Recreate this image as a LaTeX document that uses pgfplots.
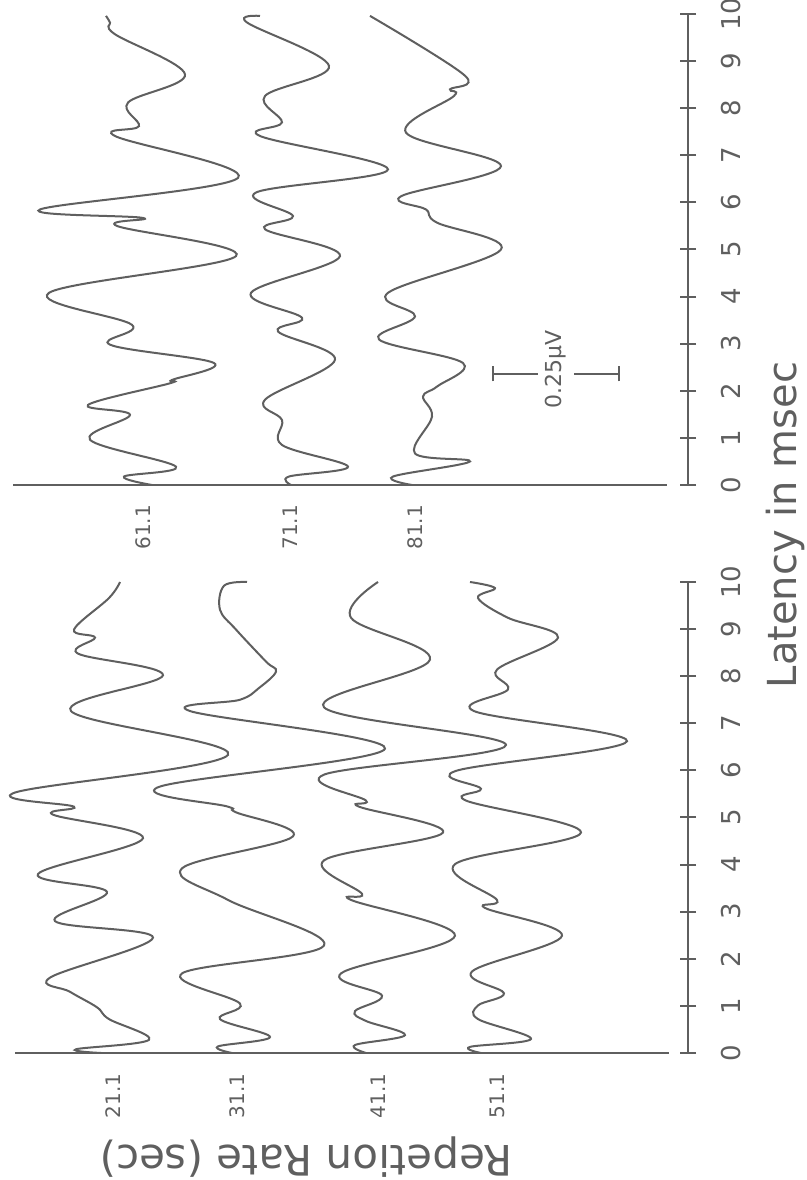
\documentclass[border=0pt]{standalone}
\usepackage{fontspec}
\setmainfont{DejaVu Sans}
\usepackage{pgfplots}
\pgfplotsset{compat=1.18}
\definecolor{ink}{RGB}{95,95,95}

% 1 px of the scan = 0.5pt; both panels 47.1 px per msec
\pgfplotsset{
  panel/.style={
    x=0.5pt, y=23.55pt,
    xmin=0, xmax=688, ymin=0, ymax=10,
    axis x line=none, axis y line*=right,
    ytick={0,...,10},
    tick align=center, major tick length=8pt,
    axis line style={ink, line width=1.1pt},
    major tick style={ink, line width=1pt},
    yticklabel style={rotate=90, anchor=north, text=ink,
      font=\fontsize{13}{13}\selectfont},
    yticklabel shift=9pt,
    /pgf/number format/assume math mode=true,
    clip=false, anchor=south west,
  },
  trace/.style={ink, line width=1pt, smooth, tension=0.6},
}
\tikzset{lab/.style={rotate=90, text=ink, font=\fontsize{10}{10}\selectfont}}

\begin{document}
\begin{tikzpicture}
\useasboundingbox (0,0) rectangle (403.5pt,590pt);

% lower panel: 21.1 to 51.1
\begin{axis}[panel, at={(0pt,63.5pt)}]
\addplot[ink, line width=1.1pt] coordinates {(15,0) (669,0)};
% 21.1
\addplot[trace] coordinates {
(101,0) (76,0.08) (149,0.28) (109,0.72) (97,0.97) (70,1.3) (50,1.6)
(153,2.45) (55,2.8) (107,3.42) (38,3.8) (143,4.56) (53,5.06) (74,5.23)
(15,5.53) (228,6.33) (71,7.26) (163,8.02) (78,8.48) (95,8.82) (74,8.99)
(109,9.66) (120,10.0)};
% 31.1
\addplot[trace] coordinates {
(232,0) (218,0.14) (270,0.34) (220,0.72) (240,1.05) (182,1.69) (324,2.28)
(228,3.25) (182,3.92) (293,4.60) (236,5.11) (228,5.23) (159,5.65)
(385,6.46) (190,7.26) (240,7.50) (259,7.75) (276,8.10) (266,8.31)
(236,8.99) (220,9.41) (224,9.92) (247,10.0)};
% 41.1
\addplot[trace] coordinates {
(366,0) (355,0.17) (405,0.38) (366,0.68) (355,0.89) (382,1.22) (341,1.69)
(455,2.49) (351,3.25) (362,3.38) (324,4.09) (443,4.68) (359,5.23)
(366,5.36) (324,5.91) (506,6.54) (324,7.34) (430,8.35) (351,9.24)
(378,10.0)};
% 51.1
\addplot[trace] coordinates {
(481,0) (470,0.13) (531,0.30) (478,0.72) (478,1.01) (504,1.27) (472,1.73)
(562,2.49) (485,3.08) (497,3.25) (455,4.01) (581,4.68) (466,5.36)
(481,5.61) (456,5.99) (627,6.62) (474,7.26) (508,7.72) (497,8.14)
(558,8.82) (508,9.24) (478,9.66) (495,9.87) (470,10.0)};
\node[lab] at (axis cs:113,-0.91) {21.1};
\node[lab] at (axis cs:237,-0.91) {31.1};
\node[lab] at (axis cs:378,-0.91) {41.1};
\node[lab] at (axis cs:497,-0.91) {51.1};
\node[rotate=180, text=ink, font=\fontsize{21}{21}\selectfont]
  at (axis cs:306,-2.21) {Repetion Rate (sec)};
\end{axis}

% upper panel: 61.1 to 81.1
\begin{axis}[panel, at={(0pt,347.5pt)}]
\addplot[ink, line width=1.1pt] coordinates {(13,0) (667,0)};
% 61.1
\addplot[trace] coordinates {
(152,0) (124,0.18) (176,0.39) (90,0.96) (130,1.49) (88,1.70) (170,2.16)
(172,2.23) (214,2.59) (110,2.98) (132,3.40) (49,4.08) (236,4.86)
(117,5.50) (143,5.67) (40,5.85) (238,6.52) (115,7.41) (139,7.62)
(128,8.12) (185,8.72) (115,9.57) (110,9.82) (106,9.96)};
% 71.1
\addplot[trace] coordinates {
(291,0) (289,0.18) (348,0.39) (282,0.85) (282,1.38) (265,1.81) (335,2.66)
(278,3.26) (302,3.55) (251,4.08) (340,4.86) (265,5.43) (293,5.71)
(256,6.21) (388,6.70) (260,7.41) (282,7.70) (265,8.26) (329,8.90)
(247,9.82) (260,9.96)};
% 81.1
\addplot[trace] coordinates {
(412,0) (393,0.18) (470,0.50) (415,0.67) (432,1.45) (423,1.88) (437,2.09)
(463,2.59) (379,3.09) (415,3.58) (388,4.08) (501,5.00) (437,5.57)
(426,5.85) (401,6.13) (501,6.77) (406,7.48) (454,8.26) (450,8.40)
(465,8.69) (370,9.96)};
% 0.25 microvolt scale bar
\addplot[ink, line width=1pt] coordinates {(493,2.36) (538,2.36)};
\addplot[ink, line width=1pt] coordinates {(574,2.36) (619,2.36)};
\addplot[ink, line width=1pt] coordinates {(493,2.2) (493,2.52)};
\addplot[ink, line width=1pt] coordinates {(619,2.2) (619,2.52)};
\node[lab, font=\fontsize{11}{11}\selectfont] at (axis cs:556,2.46) {0.25μV};
\node[lab] at (axis cs:143,-0.9) {61.1};
\node[lab] at (axis cs:290,-0.9) {71.1};
\node[lab] at (axis cs:415,-0.9) {81.1};
\node[rotate=90, text=ink, font=\fontsize{20}{20}\selectfont]
  at (axis cs:785,-0.85) {Latency in msec};
\end{axis}
\end{tikzpicture}
\end{document}
